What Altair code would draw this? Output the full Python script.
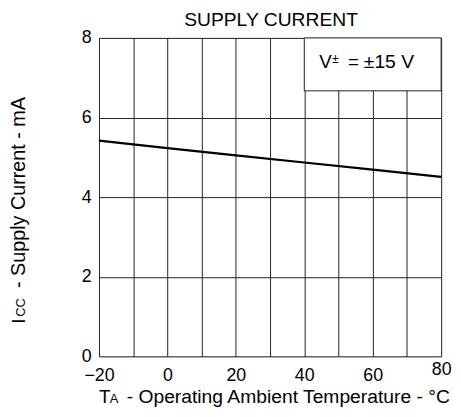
import altair as alt
import pandas as pd

temps = [-20, 0, 20, 40, 60, 80]
icc = [5.42, 5.23, 5.05, 4.87, 4.69, 4.51]

x_ticks = [-20, -10, 0, 10, 20, 30, 40, 50, 60, 70, 80]
y_ticks = [0, 2, 4, 6, 8]

box_x, box_x2, box_y, box_y2 = [40], [80], [6.67], [8]
note_x, note_y = [60], [7.25]

FONT = "Liberation Sans"
W, H = 346, 322

df = pd.DataFrame({"t": temps, "i": icc})
box = pd.DataFrame({"t": box_x, "t2": box_x2, "i": box_y, "i2": box_y2})
note = pd.DataFrame({"t": note_x, "i": note_y})

xs = alt.Scale(domain=[-20, 80], nice=False, zero=False)
ys = alt.Scale(domain=[0, 8], nice=False)

xax = alt.Axis(values=x_ticks, title=None, grid=True, gridColor="#222", gridWidth=1,
               ticks=False, domain=False, labelFont=FONT, labelFontSize=18, labelColor="black",
               labelPadding={"condition": {"test": "datum.value == 80", "value": 4}, "value": 10},
               labelExpr="datum.value % 20 == 0 ? datum.label : ''", labelFlush=False,
               labelOverlap=False)
yax = alt.Axis(values=y_ticks, title=None, grid=True, gridColor="#222", gridWidth=1,
               ticks=False, domain=False, labelFont=FONT, labelFontSize=18, labelColor="black",
               labelPadding=8, labelOverlap=False)

X = alt.X("t:Q", scale=xs, axis=xax)
Y = alt.Y("i:Q", scale=ys, axis=yax)

line = alt.Chart(df).mark_line(color="black", strokeWidth=2.2).encode(x=X, y=Y)

rect = alt.Chart(box).mark_rect(fill="white", stroke="#222", strokeWidth=1).encode(
    x=X, x2="t2", y=Y, y2="i2")

tbase = alt.Chart(note).encode(x=X, y=Y)
t1 = tbase.mark_text(text="V", font=FONT, fontSize=19, align="left", baseline="alphabetic", dx=-54)
t2 = tbase.mark_text(text="\u00b1", font=FONT, fontSize=12, align="left", baseline="alphabetic", dx=-41, dy=-5)
t3 = tbase.mark_text(text="=", font=FONT, fontSize=19, align="left", baseline="alphabetic", dx=-25)
t4 = tbase.mark_text(text="\u00b115 V", font=FONT, fontSize=19.5, align="left", baseline="alphabetic", dx=-9)

one = pd.DataFrame({"k": [0]})
lab = alt.Chart(one)
title = lab.mark_text(text="SUPPLY CURRENT", font=FONT, fontSize=19.5, align="center",
                      baseline="alphabetic").encode(x=alt.value(174), y=alt.value(-12))

# x axis title with subscript
XT_Y = 369
xt1 = lab.mark_text(text="T", font=FONT, fontSize=19, align="left", baseline="alphabetic").encode(
    x=alt.value(0), y=alt.value(XT_Y))
xt2 = lab.mark_text(text="A", font=FONT, fontSize=13, align="left", baseline="alphabetic").encode(
    x=alt.value(11), y=alt.value(XT_Y))
xt3 = lab.mark_text(text="- Operating Ambient Temperature - \u00b0C", font=FONT, fontSize=19.5,
                    align="left", baseline="alphabetic").encode(x=alt.value(28), y=alt.value(XT_Y))

# y axis title with subscript (rotated)
YT_X = -75
yt1 = lab.mark_text(text="I", font=FONT, fontSize=19, align="left", baseline="alphabetic", angle=270).encode(
    x=alt.value(YT_X), y=alt.value(289))
yt2 = lab.mark_text(text="CC", font=FONT, fontSize=13, align="left", baseline="alphabetic", angle=270).encode(
    x=alt.value(YT_X), y=alt.value(282))
yt3 = lab.mark_text(text="- Supply Current - mA", font=FONT, fontSize=20, align="left",
                    baseline="alphabetic", angle=270).encode(x=alt.value(YT_X), y=alt.value(253))

chart = alt.layer(line, rect, t1, t2, t3, t4, title, xt1, xt2, xt3, yt1, yt2, yt3).properties(
    width=W, height=H,
    autosize=alt.AutoSizeParams(type="none"),
    padding={"left": 92, "top": 28, "right": 12, "bottom": 51},
).configure_view(stroke="black", strokeWidth=2.5).configure(background="white")

chart.save("out.html", embed_options={"renderer": "svg", "actions": False})
